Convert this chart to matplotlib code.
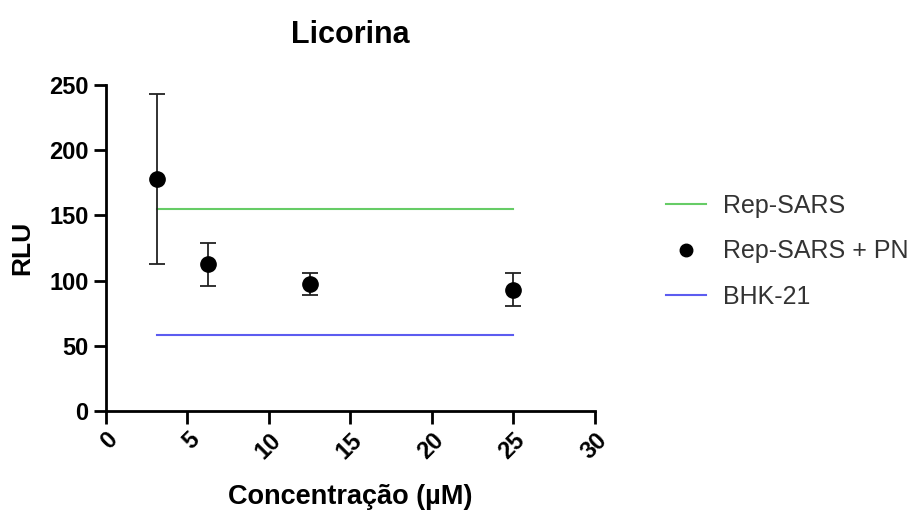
import matplotlib.pyplot as plt

conc = [3.125, 6.25, 12.5, 25]
rlu_pn = [178, 112.5, 97.5, 93]
rlu_pn_sd = [65, 16.5, 8.5, 12.5]
rep_sars = 155
bhk21 = 58.5

plt.rcParams['font.family'] = ['Liberation Sans', 'DejaVu Sans']

fig = plt.figure(figsize=(9.21, 5.14), dpi=100)
ax = fig.add_axes([0.115, 0.2004, 0.531, 0.6342])

l1, = ax.plot([conc[0], conc[-1]], [rep_sars, rep_sars], color='#66cc66', lw=1.5)
eb = ax.errorbar(conc, rlu_pn, yerr=rlu_pn_sd, fmt='o', color='black', ms=11,
                 ecolor='#222222', elinewidth=1.3, capsize=5.5, capthick=1.3)
l3, = ax.plot([conc[0], conc[-1]], [bhk21, bhk21], color='#5c5cf0', lw=1.5)

ax.set_xlim(0, 30)
ax.set_ylim(0, 250)
ax.set_xticks(range(0, 31, 5))
ax.set_yticks(range(0, 251, 50))
for s in ['top', 'right']:
    ax.spines[s].set_visible(False)
for s in ['left', 'bottom']:
    ax.spines[s].set_linewidth(2)
ax.tick_params(direction='out', length=9, width=2, labelsize=17)
for lbl in ax.get_xticklabels() + ax.get_yticklabels():
    lbl.set_fontweight('bold')
for lbl in ax.get_xticklabels():
    lbl.set_rotation(45)
    lbl.set_ha('right')
    lbl.set_va('top')
    lbl.set_rotation_mode('anchor')

ax.set_xlabel('Concentração (µM)', fontsize=19.5, fontweight='bold', labelpad=15)
ax.set_ylabel('RLU', fontsize=19, fontweight='bold', labelpad=11)
ax.set_title('Licorina', fontsize=22, fontweight='bold', pad=30)

leg = ax.legend([l1, eb[0], l3], ['Rep-SARS', 'Rep-SARS + PN', 'BHK-21'],
                loc='center left', bbox_to_anchor=(1.1, 0.49), frameon=False,
                fontsize=18, handlelength=1.6, handletextpad=0.65, labelspacing=0.85)
for t in leg.get_texts():
    t.set_color('#333333')
leg.legend_handles[1].set_markersize(9)

fig.savefig('out.png', dpi=100)
